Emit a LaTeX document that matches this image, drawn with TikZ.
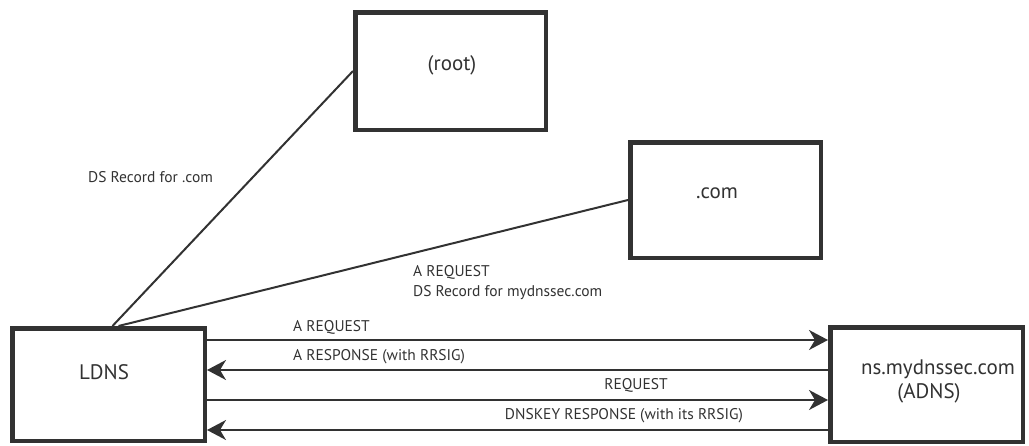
\documentclass[tikz,border=0pt]{standalone}
\usepackage{fontspec}
\setmainfont{PT Sans}
\usetikzlibrary{arrows.meta}
\definecolor{ink}{RGB}{50,50,50}
\tikzset{
  x=1pt, y=-1pt,
  server/.style={draw=ink, line width=4.5pt, inner sep=0pt, outer sep=2.25pt},
  boxname/.style={text=ink, font=\fontsize{21}{24}\selectfont, inner sep=0pt, align=center},
  msg/.style={text=ink, font=\fontsize{15.5}{20}\selectfont, inner sep=0pt},
  link/.style={draw=ink, line width=2pt},
  flow/.style={draw=ink, line width=2pt, -{Stealth[length=19pt, width=20pt, inset=6pt]}}
}
\begin{document}
\begin{tikzpicture}
\useasboundingbox (0,0) rectangle (1029,445);

% servers
\node[server, minimum width=190.5pt, minimum height=117.5pt] (root) at (450.5,71) {};
\node[server, minimum width=190.5pt, minimum height=115.5pt] (com) at (725.5,200) {};
\node[server, minimum width=192.5pt, minimum height=112.5pt] (ldns) at (108.5,384.5) {};
\node[server, minimum width=192.5pt, minimum height=114.5pt] (adns) at (926.5,384.5) {};

% server names
\node[boxname] (rootname) at (452,65) {(root)};
\node[boxname] (comname) at (717,193) {.com};
\node[boxname] (ldnsname) at (104,372) {LDNS};
\node[boxname] (adnsname) at (938,381) {ns.mydnssec.com\\\hspace*{-18pt}(ADNS)};

% links from the resolver up to the root and .com servers
\coordinate (up1) at ([xshift=4pt]ldns.north);
\coordinate (up2) at ([xshift=10pt]ldns.north);
\draw[link] (up1) -- (root.west);
\draw[link] (up2) -- (com.west);

% query / response exchange with the authoritative server
\coordinate (q1) at (0,340);
\coordinate (q2) at (0,370);
\coordinate (q3) at (0,400);
\coordinate (q4) at (0,430);
\draw[flow] (ldns.east |- q1) -- (adns.west |- q1);
\draw[flow] (adns.west |- q2) -- (ldns.east |- q2);
\draw[flow] (ldns.east |- q3) -- (adns.west |- q3);
\draw[flow] (adns.west |- q4) -- (ldns.east |- q4);

% message labels
\node[msg, anchor=west] (dscom) at (88,177) {DS Record for .com};
\node[msg, anchor=west, align=left] (dsmy) at (413,283) {A REQUEST\\DS Record for mydnssec.com};
\node[msg, anchor=west] (areq) at (293,327) {A REQUEST};
\node[msg, anchor=west] (aresp) at (293,357) {A RESPONSE (with RRSIG)};
\node[msg] (req) at (636,385) {REQUEST};
\node[msg] (keyresp) at (624,416) {DNSKEY RESPONSE (with its RRSIG)};
\end{tikzpicture}
\end{document}
